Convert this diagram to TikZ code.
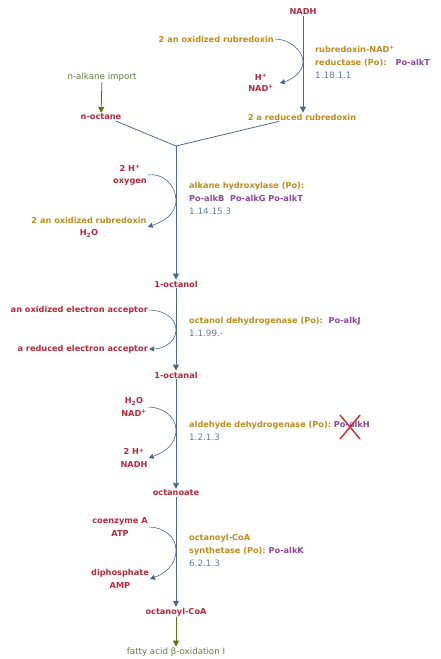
\documentclass[tikz,border=0pt]{standalone}
\usepackage{fontspec}
\setmainfont{DejaVu Sans}
\usetikzlibrary{arrows.meta}
\definecolor{cpdred}{HTML}{BE2636}
\definecolor{protorange}{HTML}{C38A1C}
\definecolor{genepurple}{HTML}{8C46A0}
\definecolor{ecgray}{HTML}{647D96}
\definecolor{rxnblue}{HTML}{4B698C}
\definecolor{linkgreen}{HTML}{50780A}
\definecolor{linktext}{HTML}{5F7D3C}
\definecolor{crossred}{HTML}{E0202A}
\tikzset{
  cpd/.style={text=cpdred, font=\fontsize{8.2}{12.5}\selectfont\bfseries, align=center, inner sep=1pt},
  prot/.style={text=protorange, font=\fontsize{8.2}{12.5}\selectfont\bfseries, align=center, inner sep=1pt},
  enz/.style={text=protorange, font=\fontsize{8.2}{12.8}\selectfont\bfseries, align=left, anchor=north west, inner sep=1pt},
  link/.style={text=linktext, font=\fontsize{8.7}{10}\selectfont, inner sep=1pt},
  rxn/.style={draw=rxnblue, line width=0.8pt, -{Triangle[length=6pt,width=6pt]}},
  side/.style={draw=rxnblue, line width=0.6pt, -{Triangle[length=5pt,width=5pt]}},
  linkarrow/.style={draw=linkgreen, line width=0.8pt, -{Triangle[length=6pt,width=6pt]}}
}
\newcommand{\gene}[1]{\textcolor{genepurple}{#1}}
\newcommand{\ecnum}[1]{\textcolor{ecgray}{\mdseries\fontsize{8.8}{12.8}\selectfont #1}}
\begin{document}
\begin{tikzpicture}[x=1pt,y=-1pt]
  \useasboundingbox (0,0) rectangle (441,659);
  \node[cpd] (nadh) at (303,12) {NADH};
  \node[prot, anchor=east] (oxrub1) at (275,39) {2 an oxidized rubredoxin};
  \node[cpd] (hnad1) at (261,83) {H\textsuperscript{+}\\[-1.5pt]NAD\textsuperscript{+}};
  \node[link] (import) at (102,77) {n-alkane import};
  \node[cpd] (noctane) at (101,117) {n-octane};
  \node[prot] (redrub) at (302,117) {2 a reduced rubredoxin};
  \node[enz] (enz1) at (314,45) {rubredoxin-NAD\textsuperscript{+}\\reductase (Po):\hspace{1.1em}\gene{Po-alkT}\\\ecnum{1.18.1.1}};
  \coordinate (c1) at (303,62);
  \coordinate (J) at (176,146);

  \node[cpd] (in2) at (130,175) {2 H\textsuperscript{+}\\oxygen};
  \node[cpd] (out2) at (89,227) {\textcolor{protorange}{2 an oxidized rubredoxin}\\H\textsubscript{2}O};
  \node[enz] (enz2) at (188,181) {alkane hydroxylase (Po):\\\gene{Po-alkB\ \ Po-alkG Po-alkT}\\\ecnum{1.14.15.3}};
  \coordinate (c2) at (176,200);
  \node[cpd] (octanol) at (176,284) {1-octanol};

  \node[cpd, anchor=east] (in3) at (149,310) {an oxidized electron acceptor};
  \node[cpd, anchor=east] (out3) at (149,349) {a reduced electron acceptor};
  \node[enz] (enz3) at (188,316) {octanol dehydrogenase (Po):\ \ \gene{Po-alkJ}\\\ecnum{1.1.99.-}};
  \coordinate (c3) at (176,330);
  \node[cpd] (octanal) at (176,375) {1-octanal};

  \node[cpd] (in4) at (134,407) {H\textsubscript{2}O\\NAD\textsuperscript{+}};
  \node[cpd] (out4) at (134,458) {2 H\textsuperscript{+}\\NADH};
  \node[enz] (enz4) at (188,420) {aldehyde dehydrogenase (Po):\ \gene{Po-alkH}\\\ecnum{1.2.1.3}};
  \coordinate (c4) at (176,430);
  \node[cpd] (octanoate) at (176,493) {octanoate};

  \node[cpd] (in5) at (120,527) {coenzyme A\\ATP};
  \node[cpd] (out5) at (120,579) {diphosphate\\AMP};
  \node[enz] (enz5) at (188,533) {octanoyl-CoA\\synthetase (Po):\ \gene{Po-alkK}\\\ecnum{6.2.1.3}};
  \coordinate (c5) at (176,550);
  \node[cpd] (octcoa) at (176,612) {octanoyl-CoA};
  \node[link] (fatty) at (176,652) {fatty acid β-oxidation I};

  \coordinate (xmark) at (350,427);
  \draw[crossred, line width=1.4pt] (xmark) +(-10,-12) -- +(10,12) (xmark) +(10,-12) -- +(-10,12);

  \draw[linkarrow] (import) -- (noctane);
  \draw[rxn] (nadh) -- (nadh |- redrub.north);
  \draw[side] (oxrub1.east) to[out=0,in=90,looseness=0.9] (c1) to[out=-90,in=15,looseness=0.9] ([xshift=5pt]hnad1.east);
  \begin{scope}[draw=rxnblue, line width=0.8pt]
    \draw ([xshift=15pt]noctane.south) -- (J);
    \draw ([xshift=-23pt]redrub.south) -- (J);
  \end{scope}
  \draw[rxn] (J) -- (octanol);
  \draw[side] (in2.east) to[out=10,in=90] (c2) to[out=-90,in=20] (out2.east);
  \draw[rxn] (octanol) -- (octanal);
  \draw[side] (in3.east) to[out=0,in=90] (c3) to[out=-90,in=0] (out3.east);
  \draw[rxn] (octanal) -- (octanoate);
  \draw[side] (in4.east) to[out=0,in=90] (c4) to[out=-90,in=20] (out4.east);
  \draw[rxn] (octanoate) -- (octcoa);
  \draw[side] (in5.east) to[out=0,in=90] (c5) to[out=-90,in=20] (out5.east);
  \draw[linkarrow] (octcoa) -- (fatty);
\end{tikzpicture}
\end{document}
